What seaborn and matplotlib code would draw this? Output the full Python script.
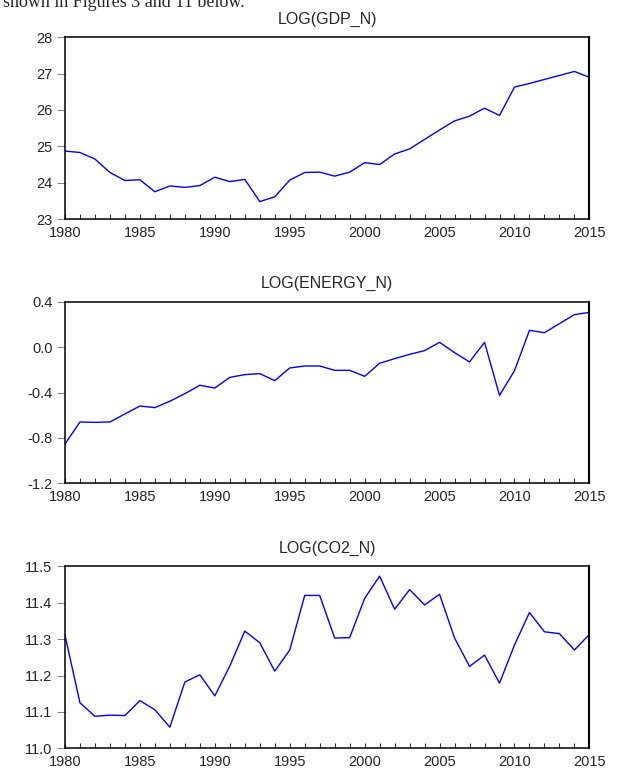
import numpy as np
import pandas as pd
import seaborn as sns
import matplotlib.pyplot as plt
from matplotlib.ticker import MultipleLocator

# 연도
years = list(range(1980, 2016))

# LOG(GDP_N)
gdp = [24.87, 24.83, 24.65, 24.28, 24.06, 24.08, 23.75, 23.91, 23.87, 23.92,
       24.15, 24.03, 24.09, 23.48, 23.61, 24.07, 24.28, 24.29, 24.18, 24.29,
       24.55, 24.50, 24.79, 24.93, 25.19, 25.45, 25.70, 25.83, 26.05, 25.85,
       26.63, 26.73, 26.84, 26.95, 27.06, 26.90]

# LOG(ENERGY_N)
energy = [-0.853, -0.659, -0.662, -0.659, -0.588, -0.518, -0.532, -0.476, -0.409, -0.335,
          -0.359, -0.265, -0.241, -0.232, -0.294, -0.182, -0.165, -0.165, -0.203, -0.203,
          -0.256, -0.141, -0.100, -0.062, -0.029, 0.044, -0.047, -0.129, 0.044, -0.424,
          -0.206, 0.150, 0.129, 0.209, 0.288, 0.309]

# LOG(CO2_N)
co2 = [11.311, 11.125, 11.088, 11.091, 11.090, 11.131, 11.106, 11.058, 11.182, 11.202,
       11.144, 11.226, 11.322, 11.290, 11.212, 11.270, 11.420, 11.420, 11.303, 11.304,
       11.412, 11.473, 11.382, 11.436, 11.394, 11.423, 11.303, 11.225, 11.256, 11.179,
       11.284, 11.373, 11.320, 11.315, 11.270, 11.313]

titles = ["LOG(GDP_N)", "LOG(ENERGY_N)", "LOG(CO2_N)"]
series = [gdp, energy, co2]
ylims = [(23, 28), (-1.2, 0.4), (11.0, 11.5)]
ysteps = [1, 0.4, 0.1]
yfmt = ["{:.0f}", "{:.1f}", "{:.1f}"]

sns.set_style("ticks")
plt.rcParams['font.family'] = ['Liberation Sans', 'DejaVu Sans']

fig = plt.figure(figsize=(6.17, 7.69), dpi=100)

# 위쪽에 잘린 본문 텍스트 (원본처럼 위가 잘려 있음)
fig.text(0.005, 1.008, "shown in Figures 3 and 11 below.", fontsize=13,
         family=['Liberation Serif', 'DejaVu Serif'], va='top', ha='left')

boxes = [(0.1053, 0.7152, 0.850, 0.2363),
         (0.1053, 0.3715, 0.850, 0.2358),
         (0.1053, 0.0269, 0.850, 0.2367)]

for i in range(3):
    ax = fig.add_axes(boxes[i])
    df = pd.DataFrame({"year": years, "value": series[i]})
    sns.lineplot(data=df, x="year", y="value", color="#0000ff", linewidth=1.0, ax=ax)
    ax.set_xlim(1980, 2015)
    ax.set_ylim(*ylims[i])
    ax.set_xticks([1980, 1985, 1990, 1995, 2000, 2005, 2010, 2015])
    ax.xaxis.set_minor_locator(MultipleLocator(1))
    yt = np.arange(ylims[i][0], ylims[i][1] + ysteps[i] / 2, ysteps[i])
    ax.set_yticks(yt)
    ax.set_yticklabels([yfmt[i].format(v) for v in yt])
    ax.set_xlabel("")
    ax.set_ylabel("")
    ax.set_title(titles[i], fontsize=11.5, pad=10)
    for s in ax.spines.values():
        s.set_visible(True)
        s.set_color("black")
        s.set_linewidth(1.1)
    ax.spines["right"].set_linewidth(1.5)
    ax.tick_params(axis='x', which='both', direction='in', length=3.5, width=0.8,
                   labelsize=10.5, pad=5, color="#333333")
    ax.tick_params(axis='y', which='both', direction='out', length=6, width=0.8,
                   labelsize=10.5, pad=3, color="#888888")

plt.savefig("out.png", dpi=100)
